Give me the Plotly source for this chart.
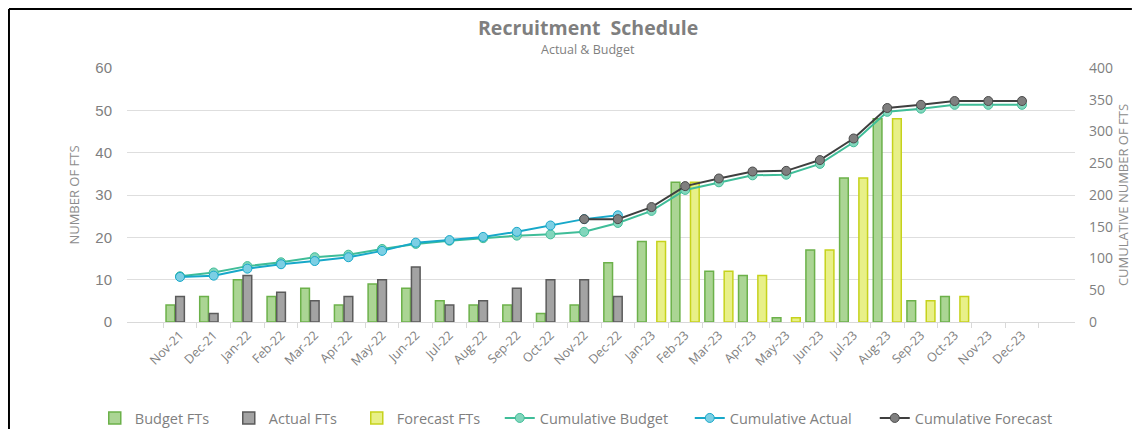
import plotly.graph_objects as go

months = ["Nov-21", "Dec-21", "Jan-22", "Feb-22", "Mar-22", "Apr-22", "May-22", "Jun-22",
          "Jul-22", "Aug-22", "Sep-22", "Oct-22", "Nov-22", "Dec-22", "Jan-23", "Feb-23",
          "Mar-23", "Apr-23", "May-23", "Jun-23", "Jul-23", "Aug-23", "Sep-23", "Oct-23",
          "Nov-23", "Dec-23"]

budget_fts = [4, 6, 10, 6, 8, 4, 9, 8, 5, 4, 4, 2, 4, 14, 19, 33, 12, 11, 1, 17, 34, 48, 5, 6, None, None]
actual_fts = [6, 2, 11, 7, 5, 6, 10, 13, 4, 5, 8, 10, 10, 6] + [None] * 12
forecast_fts = [None] * 14 + [19, 33, 12, 11, 1, 17, 34, 48, 5, 6, None, None]

cum_budget = [72, 78, 88, 94, 102, 106, 115, 123, 128, 132, 136, 138, 142, 156, 175, 208,
              220, 231, 232, 249, 283, 331, 336, 342, 342, 342]
cum_actual = [71, 73, 84, 91, 96, 102, 112, 125, 129, 134, 142, 152, 162, 168] + [None] * 12
cum_forecast = [None] * 12 + [162, 162, 181, 214, 226, 237, 238, 255, 289, 337, 342, 348, 348, 348]

GREY = "#7f7f7f"
FONT = "Open Sans"

fig = go.Figure()
fig.add_trace(go.Bar(name="Budget FTs", x=months, y=budget_fts, legendwidth=89,
                     marker=dict(color="#abd594", line=dict(color="#6cb14a", width=1.5))))
fig.add_trace(go.Bar(name="Actual FTs", x=months, y=actual_fts, legendwidth=83,
                     marker=dict(color="#a3a3a3", line=dict(color="#5b5b5b", width=1.5))))
fig.add_trace(go.Bar(name="Forecast FTs", x=months, y=forecast_fts, legendwidth=98,
                     marker=dict(color="#e8f088", line=dict(color="#c6d21c", width=1.5))))

fig.add_trace(go.Scatter(name="Cumulative Budget", x=months, y=cum_budget, yaxis="y2",
                         mode="lines+markers", line=dict(color="#3fbd98", width=2), legendwidth=145,
                         marker=dict(size=9, color="#82d6bc", line=dict(color="#3fbd98", width=1))))
fig.add_trace(go.Scatter(name="Cumulative Actual", x=months, y=cum_actual, yaxis="y2",
                         mode="lines+markers", line=dict(color="#17a8c9", width=2), legendwidth=140,
                         marker=dict(size=9, color="#7ccfe4", line=dict(color="#17a8c9", width=1))))
fig.add_trace(go.Scatter(name="Cumulative Forecast", x=months, y=cum_forecast, yaxis="y2",
                         mode="lines+markers", line=dict(color="#3f3f3f", width=2), legendwidth=135,
                         marker=dict(size=9, color="#7f7f7f", line=dict(color="#4a4a4a", width=1))))

fig.update_layout(
    width=1124, height=421,
    margin=dict(l=119, r=57, t=60, b=107, autoexpand=False),
    paper_bgcolor="white", plot_bgcolor="white",
    font=dict(family=FONT, color=GREY, size=13),
    barmode="group", bargap=0.14, bargroupgap=0.1,
    showlegend=True,
    legend=dict(orientation="h", x=-0.034, xanchor="left", y=-0.378, yanchor="middle",
                font=dict(family=FONT, size=14.5, color=GREY), itemwidth=30,
                traceorder="normal"),
    xaxis=dict(type="category", tickangle=-45, tickfont=dict(family=FONT, size=12.5, color=GREY),
               showline=True, linecolor="#d9d9d9", linewidth=1, ticks="outside",
               tickson="boundaries", ticklen=5, tickcolor="#d9d9d9", showgrid=False,
               automargin=False),
    yaxis=dict(range=[0, 60], dtick=10, showgrid=True, gridcolor="#dedede", gridwidth=1,
               zeroline=False, tickfont=dict(family="Liberation Sans", size=15, color=GREY),
               ticklabelstandoff=14, automargin=False,
               title=dict(text="NUMBER OF FTS", font=dict(family=FONT, size=13, color="#8c8c8c"),
                          standoff=12)),
    yaxis2=dict(range=[0, 400], dtick=50, overlaying="y", side="right", showgrid=False,
                zeroline=False, tickfont=dict(family=FONT, size=14, color=GREY),
                ticklabelstandoff=13, automargin=False,
                title=dict(text="CUMULATIVE NUMBER OF FTS",
                           font=dict(family=FONT, size=13, color="#8c8c8c"), standoff=10)),
    annotations=[
        dict(text="<b>Recruitment  Schedule</b>", xref="paper", yref="paper", x=0.486, y=1.161,
             xanchor="center", yanchor="middle", showarrow=False,
             font=dict(family=FONT, size=19.5, color=GREY)),
        dict(text="Actual &amp; Budget", xref="paper", yref="paper", x=0.486, y=1.071,
             xanchor="center", yanchor="middle", showarrow=False,
             font=dict(family=FONT, size=12.5, color=GREY)),
    ],
    shapes=[
        dict(type="line", xref="paper", yref="paper", x0=-0.1245, x1=-0.1245, y0=-0.5, y1=1.232,
             line=dict(color="black", width=2), layer="above"),
        dict(type="line", xref="paper", yref="paper", x0=-0.1245, x1=1.06, y0=1.232, y1=1.232,
             line=dict(color="black", width=2), layer="above"),
    ],
)

fig.write_html("out.html")
